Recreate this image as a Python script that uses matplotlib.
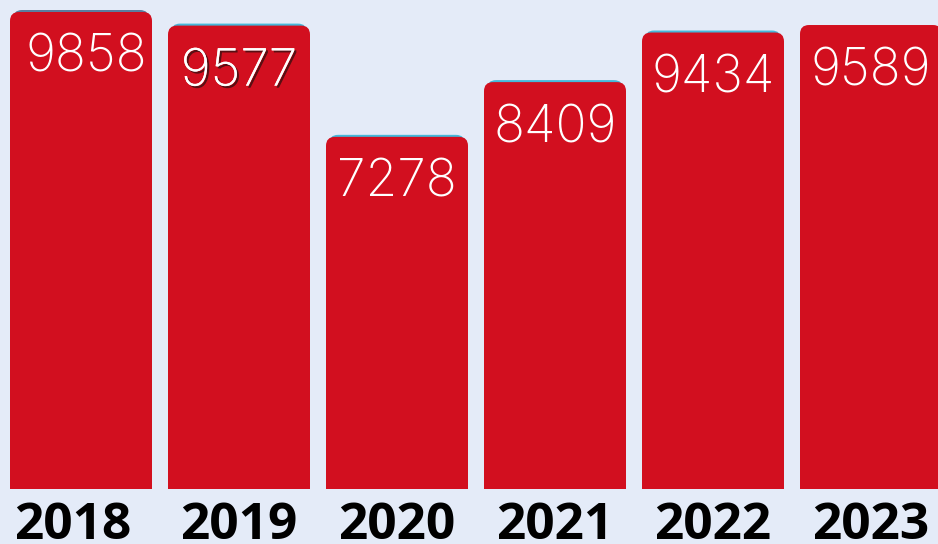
import matplotlib
matplotlib.use("Agg")
import matplotlib.pyplot as plt
from matplotlib.patches import FancyBboxPatch
import matplotlib.patheffects as pe
from matplotlib import font_manager

years = ["2018", "2019", "2020", "2021", "2022", "2023"]
values = [9858, 9577, 7278, 8409, 9434, 9589]

avail = {f.name for f in font_manager.fontManager.ttflist}
val_font = [f for f in ["Inter", "Noto Sans", "DejaVu Sans"] if f in avail]
year_font = [f for f in ["Open Sans", "Roboto", "Liberation Sans", "DejaVu Sans"] if f in avail]

BG = "#E4EBF8"
RED = "#D20F1F"
TEAL = "#45B8DA"

W, H, DPI = 938, 544, 100
fig = plt.figure(figsize=(W / DPI, H / DPI), dpi=DPI, facecolor=BG)
ax = fig.add_axes([0, (H - 489) / H, 1, 489 / H])
ax.set_facecolor(BG)
for s in ax.spines.values():
    s.set_visible(False)
ax.set_xticks([])
ax.set_yticks([])

pitch_px = 158.0
px_per_unit = 477.0 / 9858
x0 = -81.0 / pitch_px
ax.set_xlim(x0, x0 + W / pitch_px)
ax.set_ylim(0, 489.0 / px_per_unit)

xs = list(range(len(years)))
bars = ax.bar(xs, values, width=142 / pitch_px, color=RED)

aspect = (1 / px_per_unit) / (1 / pitch_px)
r = 9 / pitch_px
extra = 30 / px_per_unit
for i, b in enumerate(bars):
    bx, bw, bh = b.get_x(), b.get_width(), b.get_height()
    b.set_visible(False)
    if i < 5:
        sh = FancyBboxPatch((bx + 3 / pitch_px, -extra), bw - 6 / pitch_px, bh + extra + 2 / px_per_unit,
                            boxstyle=f"round,pad=0,rounding_size={r}", mutation_aspect=aspect,
                            facecolor=TEAL if i > 0 else "#5A7EA0", edgecolor="none", zorder=1)
        ax.add_patch(sh)
    p = FancyBboxPatch((bx, -extra), bw, bh + extra,
                       boxstyle=f"round,pad=0,rounding_size={r}", mutation_aspect=aspect,
                       facecolor=RED, edgecolor="none", zorder=2)
    ax.add_patch(p)

for i, v in enumerate(values):
    t = ax.annotate(str(v), xy=(i, v), xytext=(4 if i == 0 else 0, -60 * 0.72), textcoords="offset points",
                    ha="center", va="baseline", color="white", fontsize=37,
                    family=val_font, fontweight="light", zorder=3)
    if i == 1:
        t.set_path_effects([pe.withSimplePatchShadow(offset=(1.5, -1.5), shadow_rgbFace="#3a1010", alpha=0.8),
                            pe.Normal()])

for i, y in enumerate(years):
    ax.annotate(y, xy=(i, 0), xycoords=("data", "axes fraction"), xytext=(-6 if i == 0 else 0, -50 * 0.72),
                textcoords="offset points", ha="center", va="baseline", color="black",
                fontsize=37, family=year_font, fontweight="bold", annotation_clip=False)

fig.savefig("out.png", dpi=DPI, facecolor=BG)
